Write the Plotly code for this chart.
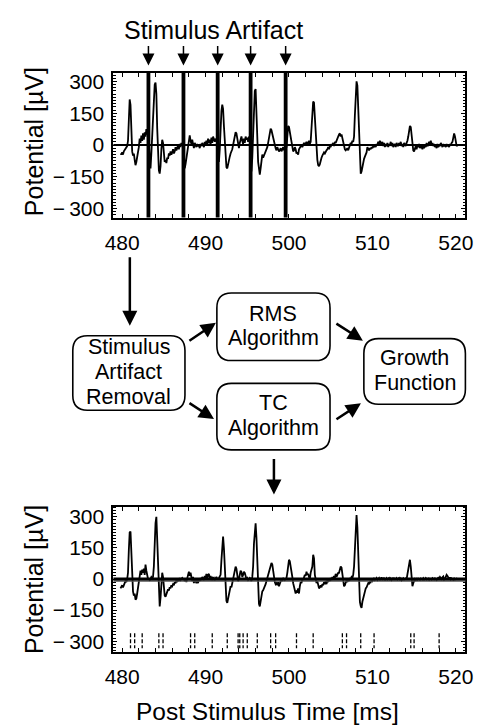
import plotly.graph_objects as go

W, H = 485, 727

# ---------------- data ----------------
T_START = 479.8   # ms, first sample
T_STEP = 0.1      # ms, sample interval

# raw recording (with stimulus artifacts), µV
top_uv = [
    -40, -45,
    -35, -45, -30, -25, -20, -10, -5, 20, 120, 215,      # 480
    190, 60, -30, -50, -40, -70, -95, -80, -60, -25,     # 481
    -10, 30, 10, 45, 20, 55, 25, 60, 40, 75,             # 482
    50, 60, 0, -60, -110, -40, 60, 150, 230, 285,        # 483
    295, 240, 80, -60, -120, -135, -100, -20, 25, 10,    # 484
    -60, -80, -70, -85, -60, -65, -40, -50, -30, -45,    # 485
    -35, -20, -40, -30, -10, -25, -15, 0, -20, 5,        # 486
    -10, 10, 0, 15, -40, -110, -90, -60, -30, 10,        # 487
    30, 45, 20, 5, 25, 0, -15, 10, -5, -10,              # 488
    5, -5, 0, -15, 5, -5, 10, 0, -10, 15,                # 489
    5, 20, 0, 30, 10, 25, 0, 35, 10, 40,                 # 490
    20, 15, 30, 20, 10, -40, -80, -20, 80, 160,          # 491
    190, 170, 90, 0, -70, -105, -110, -85, -70, -55,     # 492
    -40, -30, -20, 0, 20, 40, 60, 55, 30, -10,           # 493
    -15, 10, 35, 40, 20, 5, 30, 10, 40, 25,              # 494
    35, 15, 40, 20, -60, -125, -60, 80, 200, 255,        # 495
    264, 180, 40, -80, -130, -140, -110, -60, -45, -60,  # 496
    -50, -40, -35, -20, -10, 10, 40, 65, 77, 70,         # 497
    50, 40, 20, 0, -15, -25, -10, -20, -30, -25,         # 498
    -15, -30, -20, -10, -25, -15, -20, -10, 40, 90,      # 499
    85, 60, 45, 30, 0, -30, -25, -10, -20, -40,          # 500
    -35, -45, -20, -15, -10, 0, -10, 5, 10, 0,           # 501
    5, 15, 0, 10, 20, 5, 15, 80, 170, 205,               # 502
    200, 130, 30, -40, -70, -95, -100, -90, -70, -60,    # 503
    -50, -45, -35, -40, -30, -25, -20, -10, -20, -5,     # 504
    -10, 5, 0, 10, -5, 15, 10, 20, 30, 45,               # 505
    50, 55, 40, 50, 30, 10, -10, -20, -25, -20,          # 506
    -15, -25, -10, 0, 10, 5, 20, 15, 40, 140,            # 507
    260, 300, 280, 150, 20, -90, -135, -125, -100, -80,  # 508
    -65, -55, -45, -35, -10, -20, -25, -15, -20, -10,    # 509
    -15, -5, -10, 0, -10, 5, 0, 15, 5, 20,               # 510
    10, 0, 15, -5, 10, -10, 5, -5, 10, -10,              # 511
    5, 0, 15, -5, 10, -10, 0, 5, -10, 10,                # 512
    0, -5, 10, 0, 15, -5, 5, -10, 10, 0,                 # 513
    -5, 10, 20, 40, 70, 90, 85, 40, 0, -25,              # 514
    -30, -15, -5, -20, 0, -10, 5, -15, 0, -10,           # 515
    -20, -5, -15, 0, -10, 10, -5, 0, 15, 5,              # 516
    20, 0, 10, -5, 5, -10, 0, -15, 5, -10,               # 517
    0, -5, 10, 0, -10, 5, -5, 0, -10, 5,                 # 518
    -5, 0, -10, 5, 0, 10, 15, 35, 55, 40,                # 519
    5, -5, 0,
]

# after stimulus artifact removal, µV
bot_uv = [
    -45, -40,
    -30, -40, -25, -20, -10, -15, 0, 30, 140, 225,       # 480
    229, 140, 10, -60, -80, -70, -100, -95, -70, -40,    # 481
    -20, 10, 40, 20, 45, 30, 50, 20, 70, 40,             # 482
    10, 0, 0, -5, 0, 10, 5, 10, 60, 180,                 # 483
    270, 300, 180, 20, -100, -132, -90, 0, 30, 10,       # 484
    -50, -80, -85, -75, -60, -50, -55, -40, -45, -30,    # 485
    -35, -25, -30, -15, -20, -5, -15, 0, -10, 5,         # 486
    -5, 0, 5, 0, 0, -10, 0, -15, 10, 20,                 # 487
    35, 15, 30, 0, -10, 10, -20, 0, -15, -20,            # 488
    -5, -20, 0, -10, 5, -5, 10, 0, -5, 15,               # 489
    0, 25, 5, 20, 25, 5, 15, -5, 10, 0,                  # 490
    5, -5, 0, 10, 0, 0, 5, 10, 20, 90,                   # 491
    170, 205, 150, 40, -60, -105, -115, -90, -70, -50,   # 492
    -35, -40, -20, 0, 15, 35, 60, 50, 20, -10,           # 493
    0, 25, 40, 35, 10, 20, 35, 30, 10, 0,                # 494
    5, -5, 0, 5, 0, -10, 10, 60, 170, 240,               # 495
    269, 200, 60, -70, -120, -132, -100, -70, -60, -55,  # 496
    -45, -40, -25, -10, 5, 15, 30, 55, 70, 77,           # 497
    70, 40, 0, -15, -25, -20, -30, -15, -35, -25,        # 498
    -15, 0, -10, 5, 0, -5, 0, 5, 30, 70,                 # 499
    93, 85, 50, 40, 10, -20, -35, -50, -70, -60,         # 500
    -65, -45, -70, -35, -15, -20, 0, -5, 10, 20,         # 501
    15, 35, 20, 25, 10, 0, 30, 50, 60, 117,              # 502
    100, 20, -10, -20, -10, -30, -45, -40, -30, -40,     # 503
    -25, -30, -15, -20, -10, -25, -5, -15, 0, -10,       # 504
    5, -5, 10, 0, 15, 5, 25, 10, 20, 30,                 # 505
    30, 45, 60, 55, 30, -10, -35, -30, -20, -5,          # 506
    -15, 0, -10, 5, 0, 10, 5, 20, 60, 170,               # 507
    270, 309, 250, 100, -40, -110, -130, -139, -110, -90,  # 508
    -75, -60, -45, -40, -30, -20, -25, -10, -15, -5,     # 509
    -10, 0, 5, -5, 0, 5, -5, 0, 5, -5,                   # 510
    0, 8, -4, 2, 6, -6, 0, 4, -3, 1,                     # 511
    5, -2, 3, -5, 0, 6, -4, 2, -1, 4,                    # 512
    -3, 0, 5, -2, 3, -6, 1, 4, -2, 0,                    # 513
    3, -1, 20, 50, 80, 93, 60, 10, -35, -20,             # 514
    -10, 0, -5, 4, -3, 2, 0, -4, 3, 0,                   # 515
    -2, 4, -3, 0, 5, -2, 1, 3, -4, 2,                    # 516
    0, -3, 4, 1, -2, 3, 0, -5, 2, 6,                     # 517
    3, 10, 5, 0, 8, 12, -3, 0, 10, 20,                   # 518
    15, 5, 0, 8, -2, 3, 0, -4, 2, -3,                    # 519
    0, 2, 0,
]

artifact_ms = [483.15, 487.35, 491.45, 495.4, 499.6]
artifact_uv = [-3000, 3000]          # beyond the axis range (clipped)

detect_ms = [481.0, 481.5, 482.4, 484.4, 484.9, 488.2, 488.7, 490.8, 492.6,
             493.9, 494.1, 494.5, 495.0, 496.2, 497.8, 498.4, 500.9, 502.9,
             506.4, 506.9, 508.6, 510.2, 514.6, 515.0, 518.0]
detect_uv = [-262, -334]

x_ticks = [480, 490, 500, 510, 520]
y_ticks = [-300, -150, 0, 150, 300]
y_tick_text = ["\u2212\u2009300", "\u2212\u2009150", "0", "150", "300"]

t_top = [round(T_START + i * T_STEP, 2) for i in range(len(top_uv))]
t_bot = [round(T_START + i * T_STEP, 2) for i in range(len(bot_uv))]

FONT = "Liberation Sans, Arial, Helvetica, sans-serif"
TICK_SIZE = 21
TITLE_SIZE = 25
BOX_SIZE = 21.5

fig = go.Figure()

# top: raw signal
fig.add_trace(go.Scatter(x=t_top, y=top_uv, mode="lines",
                         line=dict(color="black", width=1.8),
                         xaxis="x", yaxis="y", hoverinfo="skip"))
ax_x, ax_y = [], []
for a in artifact_ms:
    ax_x += [a, a, None]
    ax_y += [artifact_uv[0], artifact_uv[1], None]
fig.add_trace(go.Scatter(x=ax_x, y=ax_y, mode="lines",
                         line=dict(color="black", width=3.8),
                         xaxis="x", yaxis="y", hoverinfo="skip"))

# bottom: cleaned signal
fig.add_trace(go.Scatter(x=t_bot, y=bot_uv, mode="lines",
                         line=dict(color="black", width=1.8),
                         xaxis="x2", yaxis="y2", hoverinfo="skip"))
dx, dy = [], []
for d in detect_ms:
    dx += [d, d, None]
    dy += [detect_uv[0], detect_uv[1], None]
fig.add_trace(go.Scatter(x=dx, y=dy, mode="lines",
                         line=dict(color="black", width=1.3, dash="4px,2px"),
                         xaxis="x2", yaxis="y2", hoverinfo="skip"))

XR = [478.95, 521.15]
XDOM = [109 / W, 473 / W]


def xaxis(dom_anchor):
    return dict(domain=XDOM, range=XR, anchor=dom_anchor,
                tickmode="array", tickvals=x_ticks,
                ticks="inside", ticklen=4, tickwidth=1.2, tickcolor="black",
                minor=dict(tick0=480, dtick=2, ticks="inside", ticklen=4,
                           tickwidth=1.2, tickcolor="black"),
                showline=True, linewidth=2, linecolor="black", mirror="ticks",
                showgrid=False, zeroline=False,
                tickfont=dict(family=FONT, size=TICK_SIZE, color="black"),
                ticklabelstandoff=5)


def yaxis(dom, rng, anchor):
    return dict(domain=dom, range=rng, anchor=anchor,
                tickmode="array", tickvals=y_ticks, ticktext=y_tick_text,
                ticks="inside", ticklen=4, tickwidth=1.2, tickcolor="black",
                minor=dict(tick0=0, dtick=15, ticks="inside", ticklen=2.5,
                           tickwidth=1, tickcolor="black"),
                showline=True, linewidth=2, linecolor="black", mirror="ticks",
                showgrid=False, zeroline=False,
                tickfont=dict(family=FONT, size=TICK_SIZE, color="black"),
                ticklabelstandoff=3)


shapes = [
    dict(type="line", xref="x domain", yref="y", x0=0, x1=1, y0=0, y1=0,
         line=dict(color="black", width=2)),
    dict(type="line", xref="x2 domain", yref="y2", x0=0, x1=1, y0=-10, y1=-10,
         line=dict(color="#555", width=1.5)),
    dict(type="line", xref="x2 domain", yref="y2", x0=0, x1=1, y0=0, y1=0,
         line=dict(color="black", width=3)),
]


def P(x, y):
    return f"{x / W:.5f},{1 - y / H:.5f}"


def rbox(x0, y0, x1, y1, r=15):
    path = (f"M{P(x0 + r, y0)} L{P(x1 - r, y0)} Q{P(x1, y0)} {P(x1, y0 + r)} "
            f"L{P(x1, y1 - r)} Q{P(x1, y1)} {P(x1 - r, y1)} "
            f"L{P(x0 + r, y1)} Q{P(x0, y1)} {P(x0, y1 - r)} "
            f"L{P(x0, y0 + r)} Q{P(x0, y0)} {P(x0 + r, y0)} Z")
    return dict(type="path", xref="paper", yref="paper", path=path,
                line=dict(color="black", width=1.6), fillcolor="rgba(0,0,0,0)")


# box outline (px) and its text lines with their vertical centres (px)
boxes = [
    ((67, 335, 183, 410), [("Stimulus", 346), ("Artifact", 371.5), ("Removal", 397)]),
    ((216, 292, 333, 360), [("RMS", 313), ("Algorithm", 337)]),
    ((216, 383, 333, 450), [("TC", 403), ("Algorithm", 428)]),
    ((368, 338, 473, 404), [("Growth", 357.5), ("Function", 382.5)]),
]

annotations = []
for (x0, y0, x1, y1), lines in boxes:
    shapes.append(rbox(x0, y0, x1, y1))
    for txt, yc in lines:
        annotations.append(dict(text=txt, xref="paper", yref="paper",
                                x=(x0 + x1) / 2 / W, y=1 - yc / H,
                                xanchor="center", yanchor="middle", showarrow=False,
                                font=dict(family=FONT, size=BOX_SIZE, color="black")))

# flow arrows (tip px, tail offset px)
flow = [((126, 325), (0, -70)),
        ((215, 322), (-28, 19)),
        ((213, 419), (-26, -17)),
        ((367, 340), (-28, -18)),
        ((365, 403), (-26, 17)),
        ((275, 495), (0, -37))]
for (tx, ty), (oax, oay) in flow:
    annotations.append(dict(text="", xref="paper", yref="paper",
                            x=tx / W, y=1 - ty / H, ax=oax, ay=oay,
                            axref="pixel", ayref="pixel", showarrow=True,
                            arrowhead=2, arrowsize=1.2, arrowwidth=2.5,
                            arrowcolor="black", standoff=0))

# stimulus artifact arrows
for a in artifact_ms:
    annotations.append(dict(text="", xref="x", yref="paper",
                            x=a, y=1 - 63 / H, ax=0, ay=-21,
                            axref="pixel", ayref="pixel", showarrow=True,
                            arrowhead=2, arrowsize=1.6, arrowwidth=1.5,
                            arrowcolor="black", standoff=0))

annotations += [
    dict(text="Stimulus Artifact", xref="paper", yref="paper",
         x=213 / W, y=1 - 27 / H, xanchor="center", yanchor="middle",
         showarrow=False, font=dict(family=FONT, size=TITLE_SIZE, color="black")),
    dict(text="Potential [µV]", xref="paper", yref="paper",
         x=27 / W, y=1 - 140 / H, xanchor="center", yanchor="middle",
         textangle=-90, showarrow=False,
         font=dict(family=FONT, size=TITLE_SIZE, color="black")),
    dict(text="Potential [µV]", xref="paper", yref="paper",
         x=27 / W, y=1 - 581 / H, xanchor="center", yanchor="middle",
         textangle=-90, showarrow=False,
         font=dict(family=FONT, size=TITLE_SIZE, color="black")),
    dict(text="Post Stimulus Time [ms]", xref="paper", yref="paper",
         x=268 / W, y=1 - 713 / H, xanchor="center", yanchor="middle",
         showarrow=False, font=dict(family=FONT, size=24.5, color="black")),
]

fig.update_layout(
    width=W, height=H, margin=dict(l=0, r=0, t=0, b=0),
    paper_bgcolor="white", plot_bgcolor="white", showlegend=False,
    xaxis=xaxis("y"),
    yaxis=yaxis([1 - 216 / H, 1 - 70 / H], [-342, 342], "x"),
    xaxis2=xaxis("y2"),
    yaxis2=yaxis([1 - 653 / H, 1 - 507 / H], [-350, 350], "x2"),
    shapes=shapes, annotations=annotations,
)

fig.write_html(
    "out.html",
    config={"displayModeBar": False},
    post_script="document.body.style.margin='0';document.body.style.overflow='hidden';",
)
